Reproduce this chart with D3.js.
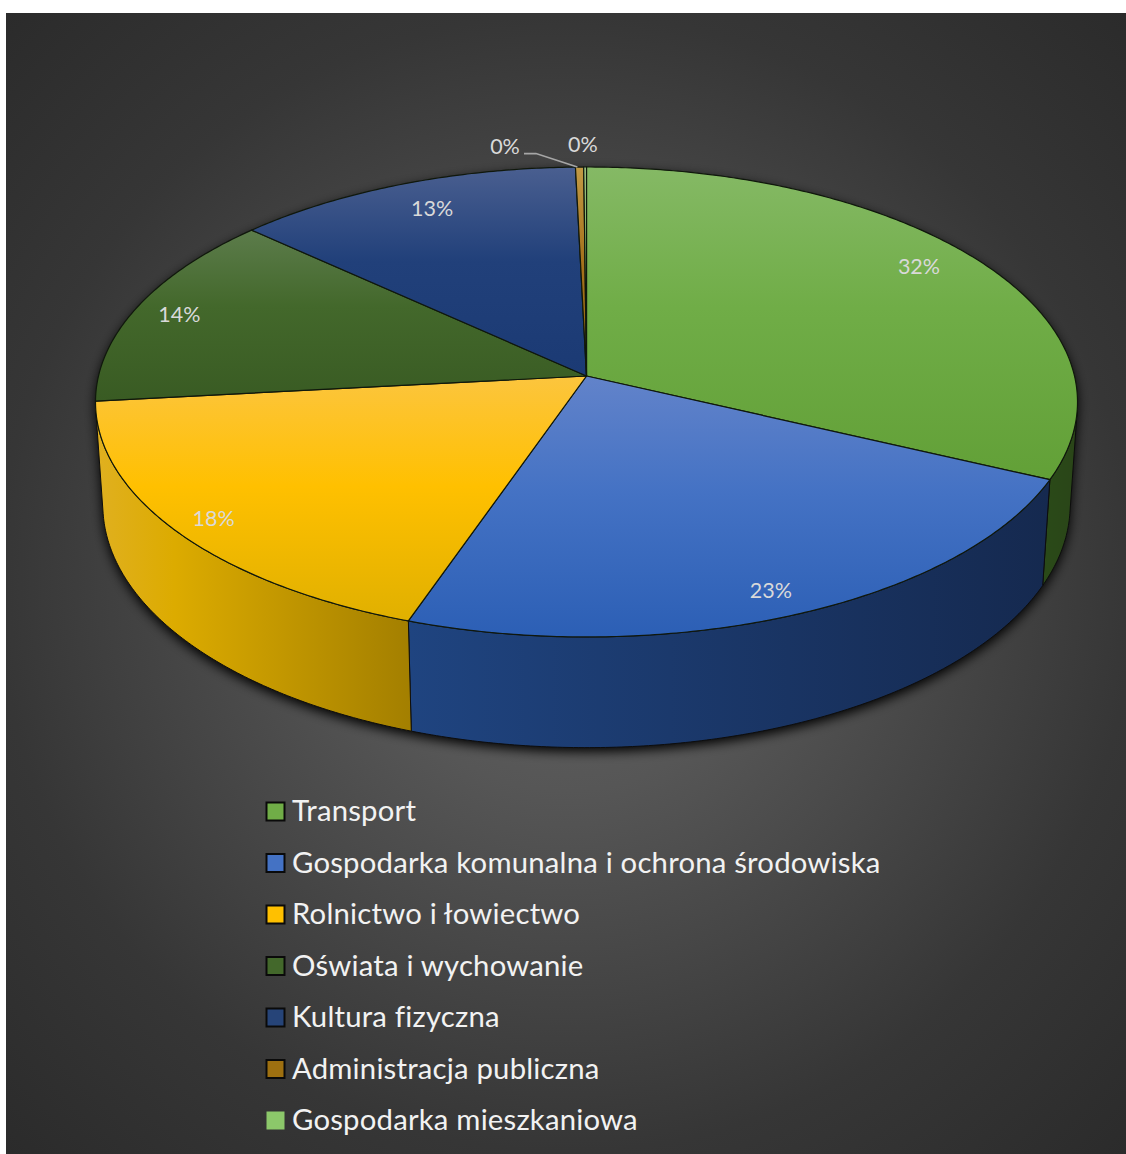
<!DOCTYPE html>
<html><head><meta charset="utf-8">
<script src="https://cdn.jsdelivr.net/npm/d3@7"></script>
<style>html,body{margin:0;padding:0;background:#fff;overflow:hidden}svg{display:block}</style>
</head><body><div id="chart"></div>
<script>
const categories = ["Transport","Gospodarka komunalna i ochrona środowiska","Rolnictwo i łowiectwo","Oświata i wychowanie","Kultura fizyczna","Administracja publiczna","Gospodarka mieszkaniowa"];
const shares = [32.0,23.3,18.0,13.5,12.8,0.3,0.1];
const faceLight = ["#85b965","#6283ca","#fcc53e","#5c7c4b","#4a5f90","#c29a45","#a9d18e"];
const faceBase  = ["#70ad47","#4472c4","#ffc000","#43682b","#21407a","#a5721c","#8cc46a"];
const faceDark  = ["#62a037","#2c5fb5","#e0b000","#395b23","#1b3a74","#96680f","#70ad47"];
const wallLeft  = ["#2a4a18","#1f4480","#e2b01e","#2a4a18","#162c52","#6b4c0f","#2a4a18"];
const wallRight = ["#2a4518","#15294f","#a37f00","#2a4518","#162c52","#6b4c0f","#2a4518"];
const legendFill = ["#70ad47","#4472c4","#ffc000","#43682b","#264478","#9e7010","#8cc86a"];

const W=1126,H=1154;
const svg=d3.select("#chart").append("svg").attr("width",W).attr("height",H);
const defs=svg.append("defs");
const bg=defs.append("radialGradient").attr("id","bg").attr("gradientUnits","userSpaceOnUse")
  .attr("cx",566).attr("cy",583).attr("r",800);
[[0,"#636363"],[0.26,"#565656"],[0.57,"#404040"],[0.71,"#363636"],[1,"#2b2b2b"]].forEach(s=>
  bg.append("stop").attr("offset",s[0]).attr("stop-color",s[1]));
svg.append("rect").attr("x",6).attr("y",13).attr("width",1120).attr("height",1141).attr("fill","url(#bg)");

const cx=586.5, cy=376, A=232.1, B=0.1106, C=488, DROP=104, SHR=0.015;
function proj(angle,r,lower){
  const u=r*Math.sin(angle), v=-r*Math.cos(angle);
  const den=1-B*v+(lower?SHR:0);
  return [cx+C*u/den, cy+(A*v+(lower?DROP:0))/den];
}
const pie=d3.pie().sort(null).value(d=>d)(shares);
const line=d3.line();
const arcPts=(a0,a1,lower)=>{
  const n=Math.max(2,Math.ceil(Math.abs(a1-a0)/0.01));
  return d3.range(n+1).map(i=>proj(a0+(a1-a0)*i/n,1,lower));
};
// silhouette angles: where the top-to-bottom edge is tangent to the top rim
function tangentCross(a){
  const p=proj(a,1,false), q=proj(a+0.001,1,false), b=proj(a,1,true);
  return (q[0]-p[0])*(b[1]-p[1])-(q[1]-p[1])*(b[0]-p[0]);
}
function findTangent(lo,hi){
  let s=tangentCross(lo);
  for(let i=0;i<50;i++){const m=(lo+hi)/2; if(tangentCross(m)*s>0) lo=m; else hi=m;}
  return (lo+hi)/2;
}
const wallMin=findTangent(0.8,2.2), wallMax=findTangent(4.1,5.5);

defs.append("filter").attr("id","blur").attr("x","-10%").attr("y","-10%").attr("width","120%").attr("height","120%")
  .append("feGaussianBlur").attr("stdDeviation",6);
const hull=arcPts(wallMin,wallMax,true).concat(arcPts(wallMax,wallMin+2*Math.PI,false));
svg.append("path").attr("d",line(hull)+"Z")
  .attr("transform","translate(0,4)").attr("fill","#000").attr("filter","url(#blur)");

// walls
const wallData=pie.map((d,i)=>({i,a0:Math.max(d.startAngle,wallMin),a1:Math.min(d.endAngle,wallMax)})).filter(d=>d.a1>d.a0);
wallData.forEach(d=>{
  const g=defs.append("linearGradient").attr("id","wall"+d.i);
  if(d.i===2){
    g.append("stop").attr("offset",0).attr("stop-color","#e0b020");
    g.append("stop").attr("offset",0.25).attr("stop-color","#dcab00");
  } else g.append("stop").attr("offset",0).attr("stop-color",wallLeft[d.i]);
  g.append("stop").attr("offset",1).attr("stop-color",wallRight[d.i]);
});
const wg=svg.append("g");
wallData.forEach(d=>{
  const pts=arcPts(d.a0,d.a1,false).concat(arcPts(d.a1,d.a0,true));
  wg.append("path").attr("d",line(pts)+"Z").attr("fill",`url(#wall${d.i})`).attr("stroke","#0d0d0d").attr("stroke-width",1).attr("stroke-linejoin","round");
});

// faces
pie.forEach((d,i)=>{
  const g=defs.append("linearGradient").attr("id","face"+i).attr("x1",0).attr("x2",0).attr("y1",0).attr("y2",1);
  g.append("stop").attr("offset",0).attr("stop-color",faceLight[i]);
  g.append("stop").attr("offset",0.45).attr("stop-color",faceBase[i]);
  g.append("stop").attr("offset",1).attr("stop-color",faceDark[i]);
});
svg.append("g").selectAll("path").data(pie).join("path")
  .attr("d",d=>"M"+[cx,cy]+"L"+arcPts(d.startAngle,d.endAngle,false).join("L")+"Z")
  .attr("fill",(d,i)=>`url(#face${i})`)
  .attr("stroke","#10180c").attr("stroke-width",1.2).attr("stroke-linejoin","round");

// data labels
const fmt=v=>d3.format(".0f")(v)+"%";
const labelFont="Lato, Carlito, sans-serif";
const nudge=[[-14,-5],[0,6],[-13,6],[-9,1],[10,4]];
const lab=svg.append("g").attr("font-family",labelFont).attr("font-size",21.5).attr("fill","#d9d9d9").attr("text-anchor","middle");
pie.forEach((d,i)=>{
  const mid=(d.startAngle+d.endAngle)/2;
  let p;
  if(i<5){ const q=proj(mid,0.885,false); p=[q[0]+nudge[i][0],q[1]+nudge[i][1]]; }
  else if(i===6){ const q=proj(mid,1.12,false); p=[q[0]-2,q[1]]; }
  else p=[505,146];
  lab.append("text").attr("x",p[0]).attr("y",p[1]).attr("dy","0.35em").text(fmt(d.value));
});
// leader line for the small slice
const adm=pie[5], admTop=proj((adm.startAngle+adm.endAngle)/2-0.005,1,false);
svg.append("path").attr("d",line([[524,153.6],[536,153.6],admTop])).attr("fill","none").attr("stroke","#a6a6a6").attr("stroke-width",1.6);

// legend
const ly=d3.scalePoint().domain(categories).range([811.5,1120.5]);
const leg=svg.append("g").selectAll("g").data(categories).join("g").attr("transform",d=>`translate(0,${ly(d)})`);
leg.append("rect").attr("x",266.5).attr("y",-9).attr("width",18).attr("height",18)
  .attr("fill",(d,i)=>legendFill[i]).attr("stroke",(d,i)=>i===6?"none":"#0a0a0a").attr("stroke-width",2);
leg.append("text").attr("x",292).attr("y",-0.5).attr("dy","0.35em")
  .attr("font-family",labelFont).attr("font-size",29.3).attr("letter-spacing",0.2).attr("fill","#f2f2f2").text(d=>d);
</script></body></html>
